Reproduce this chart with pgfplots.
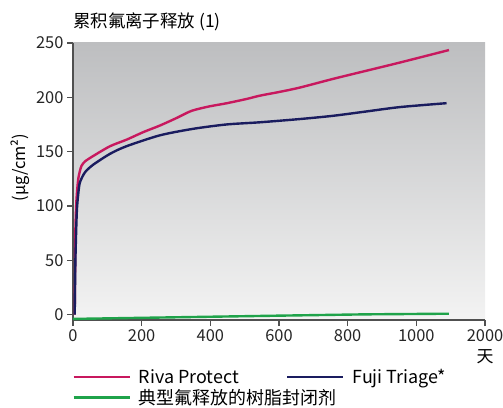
\documentclass[border=0pt]{standalone}
\usepackage{fontspec}
\setmainfont{Noto Sans CJK SC}
\usepackage{pgfplots}
\pgfplotsset{compat=1.18}

\definecolor{riva}{HTML}{C8185E}
\definecolor{fuji}{HTML}{1A1C5F}
\definecolor{seal}{HTML}{1FA34A}
\definecolor{bgtop}{HTML}{BDBEC0}
\definecolor{bgbot}{HTML}{F3F3F3}
\definecolor{axgray}{HTML}{505050}

\begin{document}
\begin{tikzpicture}
  \begin{axis}[
      scale only axis,
      width=412bp, height=277bp,
      xmin=0, xmax=1200,
      ymin=-5, ymax=250,
      xtick={0,200,...,1200},
      xticklabels={0,200,400,600,800,1000,2000},
      ytick={0,50,...,250},
      axis lines*=left,
      axis line style={axgray, line width=1.2bp},
      tick style={axgray, line width=1.2bp},
      tick align=outside,
      major tick length=6bp,
      ticklabel style={font=\fontsize{16.5}{18}\selectfont, text=black!85},
      /pgf/number format/assume math mode=true,
      /pgf/number format/1000 sep={},
      axis background/.style={top color=bgtop, bottom color=bgbot},
      legend columns=2,
      legend style={at={(rel axis cs:0,0)}, anchor=north west,
        xshift=-4bp, yshift=-45bp,
        draw=none, fill=none,
        font=\fontsize{18}{20}\selectfont,
        row sep=0bp,
        /tikz/every even column/.append style={column sep=45bp}},
      legend cell align=left,
      legend image code/.code={\draw[#1, line width=2.8bp] (0bp,0bp) -- (56bp,0bp);
        \path (62bp,0bp);},
      clip=false,
    ]
    \addplot[riva, line width=2.4bp, smooth, tension=0.45] coordinates {
      (5,0) (6,40) (7,78) (10,105) (15,124) (20,132) (25,137) (35,141)
      (59,146) (108,155) (156,161) (205,168) (253,174) (302,181)
      (345,187.5) (395,191.5) (447,194.5) (506,198.5) (544,201.5) (602,205)
      (661,209) (758,217) (855,224.5) (952,232) (1095,243.5)
    };
    \addlegendentry{Riva Protect}
    \addplot[fuji, line width=2.4bp, smooth, tension=0.45] coordinates {
      (5,0) (7,50) (11,94) (15,110) (20,121.5) (35,131) (59,138)
      (108,148) (156,155) (253,165) (350,171) (447,175) (544,177)
      (661,180) (758,183) (855,187) (952,191) (1088,194.6)
    };
    \addlegendentry{Fuji Triage*}
    \addplot[seal, line width=2.4bp] coordinates {
      (0,-4) (300,-2.5) (600,-1) (850,0.2) (1095,0.8)
    };
    \addlegendentry{\makebox[0pt][l]{典型氟释放的树脂封闭剂}}
    \coordinate (o) at (rel axis cs:0,0);
    \node[anchor=south west, font=\fontsize{17.5}{20}\selectfont, inner sep=0pt]
      at ([yshift=12bp]rel axis cs:0,1) {累积氟离子释放 (1)};
    \node[rotate=90, font=\fontsize{16.5}{18}\selectfont]
      at ([xshift=-53bp]rel axis cs:0,0.55) {(µg/cm²)};
    \node[font=\fontsize{17}{18}\selectfont]
      at ([yshift=-37bp]rel axis cs:1,0) {天};
  \end{axis}
  \pgfresetboundingbox
  \path ([shift={(-73bp,-88bp)}]o) rectangle ([shift={(430bp,320bp)}]o);
\end{tikzpicture}
\end{document}
